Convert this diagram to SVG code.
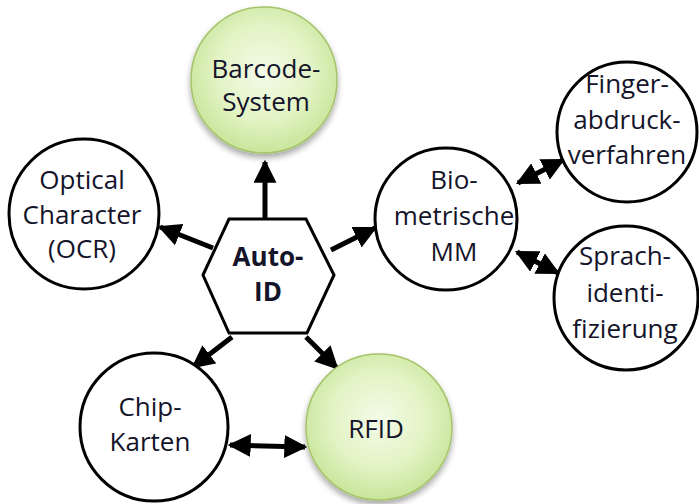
<svg xmlns="http://www.w3.org/2000/svg" width="699" height="504" viewBox="0 0 699 504">
<style>
.c{fill:#fff;stroke:#000;stroke-width:3}
.g{fill:url(#gg);stroke:#a6c46a;stroke-width:1.5;filter:url(#sh)}
.t{font-family:"Open Sans",Lato,"Liberation Sans",sans-serif;font-size:26px;fill:#14142a;text-anchor:middle}
.b{font-weight:bold}
.a{stroke:#000;stroke-width:5;fill:none}
</style>
<defs>
<radialGradient id="gg" cx="0.5" cy="0.45" r="0.55">
<stop offset="0" stop-color="#f4fbe8"/>
<stop offset="0.6" stop-color="#e2f3c4"/>
<stop offset="1" stop-color="#c8e59a"/>
</radialGradient>
<filter id="sh" x="-20%" y="-20%" width="140%" height="150%">
<feGaussianBlur in="SourceAlpha" stdDeviation="3"/>
<feOffset dx="0" dy="4" result="b"/>
<feComponentTransfer><feFuncA type="linear" slope="0.35"/></feComponentTransfer>
<feMerge><feMergeNode/><feMergeNode in="SourceGraphic"/></feMerge>
</filter>
<marker id="ah" viewBox="0 0 10 10" refX="9" refY="5" markerWidth="4.6" markerHeight="4.6" orient="auto-start-reverse" markerUnits="strokeWidth">
<path d="M0,0 L10,5 L0,10 z" fill="#000"/>
</marker>
</defs>
<g id="connectors">
<line class="a" x1="265" y1="219" x2="265" y2="162" marker-end="url(#ah)"/>
<line class="a" x1="213" y1="248" x2="160" y2="227" marker-end="url(#ah)"/>
<line class="a" x1="331" y1="250" x2="375" y2="228" marker-end="url(#ah)"/>
<line class="a" x1="232" y1="337" x2="193" y2="367" marker-end="url(#ah)"/>
<line class="a" x1="306" y1="337" x2="337" y2="368" marker-end="url(#ah)"/>
<line class="a" x1="518" y1="183" x2="563" y2="160" marker-start="url(#ah)" marker-end="url(#ah)"/>
<line class="a" x1="517" y1="252" x2="558" y2="273" marker-start="url(#ah)" marker-end="url(#ah)"/>
<line class="a" x1="230" y1="445" x2="305" y2="447" marker-start="url(#ah)" marker-end="url(#ah)"/>
</g>
<g id="barcode">
<circle class="g" cx="264" cy="80" r="73"/>
<text class="t" x="266" y="78">Barcode-</text>
<text class="t" x="266" y="111">System</text>
</g>
<g id="ocr">
<circle class="c" cx="84" cy="214" r="75"/>
<text class="t" x="82" y="189">Optical</text>
<text class="t" x="82" y="224">Character</text>
<text class="t" x="82" y="258">(OCR)</text>
</g>
<g id="autoid">
<polygon class="c" points="203,275 229,219 306,219 334,275 307,333 229,333"/>
<text class="t b" x="268" y="266">Auto-</text>
<text class="t b" x="268" y="301">ID</text>
</g>
<g id="bio">
<circle class="c" cx="446" cy="219" r="71"/>
<text class="t" x="454" y="189">Bio-</text>
<text class="t" x="454" y="225">metrische</text>
<text class="t" x="454" y="261">MM</text>
</g>
<g id="finger">
<circle class="c" cx="627" cy="132" r="70"/>
<text class="t" x="627" y="93">Finger-</text>
<text class="t" x="627" y="129">abdruck-</text>
<text class="t" x="627" y="164">verfahren</text>
</g>
<g id="sprach">
<circle class="c" cx="626" cy="298" r="72"/>
<text class="t" x="625" y="265">Sprach-</text>
<text class="t" x="625" y="302">identi-</text>
<text class="t" x="625" y="338">fizierung</text>
</g>
<g id="chip">
<circle class="c" cx="154" cy="427" r="74"/>
<text class="t" x="150" y="416">Chip-</text>
<text class="t" x="150" y="451">Karten</text>
</g>
<g id="rfid">
<circle class="g" cx="379" cy="427" r="73"/>
<text class="t" x="376" y="438">RFID</text>
</g>
</svg>
